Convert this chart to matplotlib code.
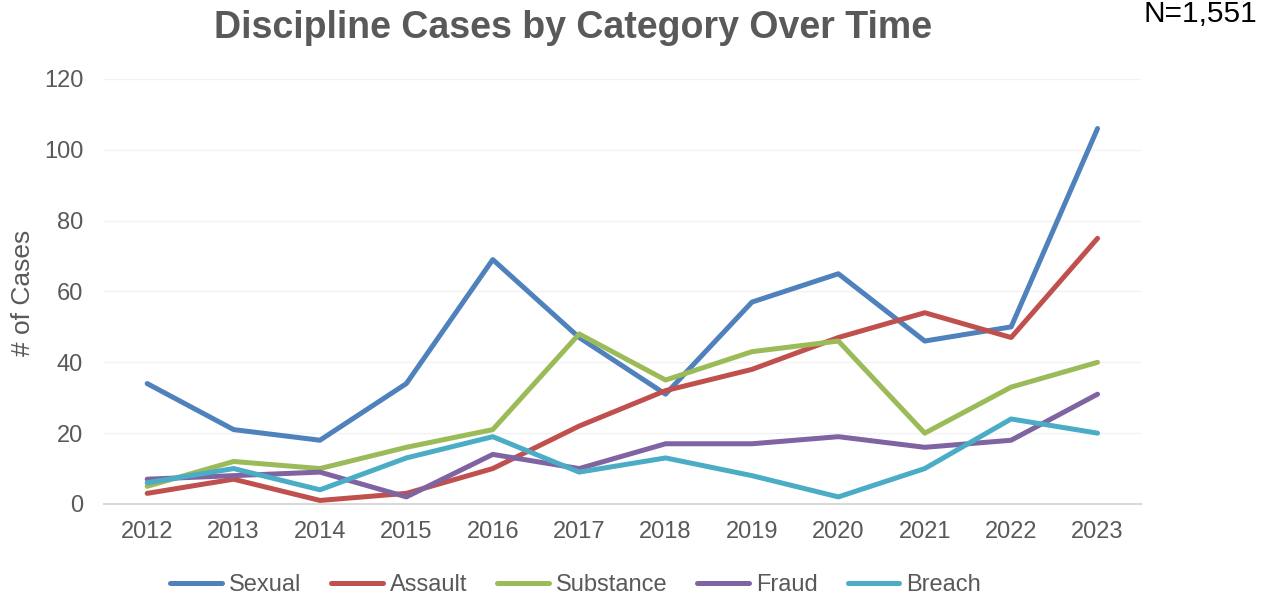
import matplotlib.pyplot as plt

plt.rcParams['font.family'] = ['Liberation Sans', 'DejaVu Sans']

years = ['2012', '2013', '2014', '2015', '2016', '2017', '2018', '2019', '2020', '2021', '2022', '2023']
sexual = [34, 21, 18, 34, 69, 47, 31, 57, 65, 46, 50, 106]
assault = [3, 7, 1, 3, 10, 22, 32, 38, 47, 54, 47, 75]
substance = [5, 12, 10, 16, 21, 48, 35, 43, 46, 20, 33, 40]
fraud = [7, 8, 9, 2, 14, 10, 17, 17, 19, 16, 18, 31]
breach = [6, 10, 4, 13, 19, 9, 13, 8, 2, 10, 24, 20]

series = [
    ('Sexual', sexual, '#4F81BD'),
    ('Assault', assault, '#C0504D'),
    ('Substance', substance, '#9BBB59'),
    ('Fraud', fraud, '#8064A2'),
    ('Breach', breach, '#4BACC6'),
]

grey = '#595959'

fig = plt.figure(figsize=(12.76, 5.97), dpi=100)
ax = fig.add_axes([0.0815, 0.1558, 0.8125, 0.712])

x = range(len(years))
for name, vals, col in series:
    ax.plot(x, vals, color=col, lw=3.6, label=name, solid_capstyle='round')

ax.set_xlim(-0.5, len(years) - 0.5)
ax.set_ylim(0, 120)
ax.set_yticks(range(0, 121, 20))
ax.set_xticks(list(x))
ax.set_xticklabels(years)
ax.tick_params(axis='both', length=0, labelsize=17, colors=grey)
ax.tick_params(axis='x', pad=12)
ax.tick_params(axis='y', pad=15)
ax.yaxis.grid(True, color='#F2F2F2', lw=1)
ax.set_axisbelow(True)
for s in ['top', 'right', 'left']:
    ax.spines[s].set_visible(False)
ax.spines['bottom'].set_color('#D9D9D9')
ax.spines['bottom'].set_linewidth(1.5)

# y label placed by hand so it isn't clipped
fig.text(0.018, 0.509, '# of Cases', rotation=90, ha='center', va='center',
         fontsize=19, color=grey)

fig.text(0.449, 0.953, 'Discipline Cases by Category Over Time', ha='center', va='center',
         fontsize=27, fontweight='bold', color=grey)
fig.text(0.985, 0.977, 'N=1,551', ha='right', va='center', fontsize=21.5, color='black')

leg = ax.legend(loc='upper center', bbox_to_anchor=(0.455, -0.115), ncol=5, frameon=False,
                fontsize=17, handlelength=2.2, handletextpad=0.3, columnspacing=1.25)
for t in leg.get_texts():
    t.set_color(grey)

fig.savefig('out.png', dpi=100)
